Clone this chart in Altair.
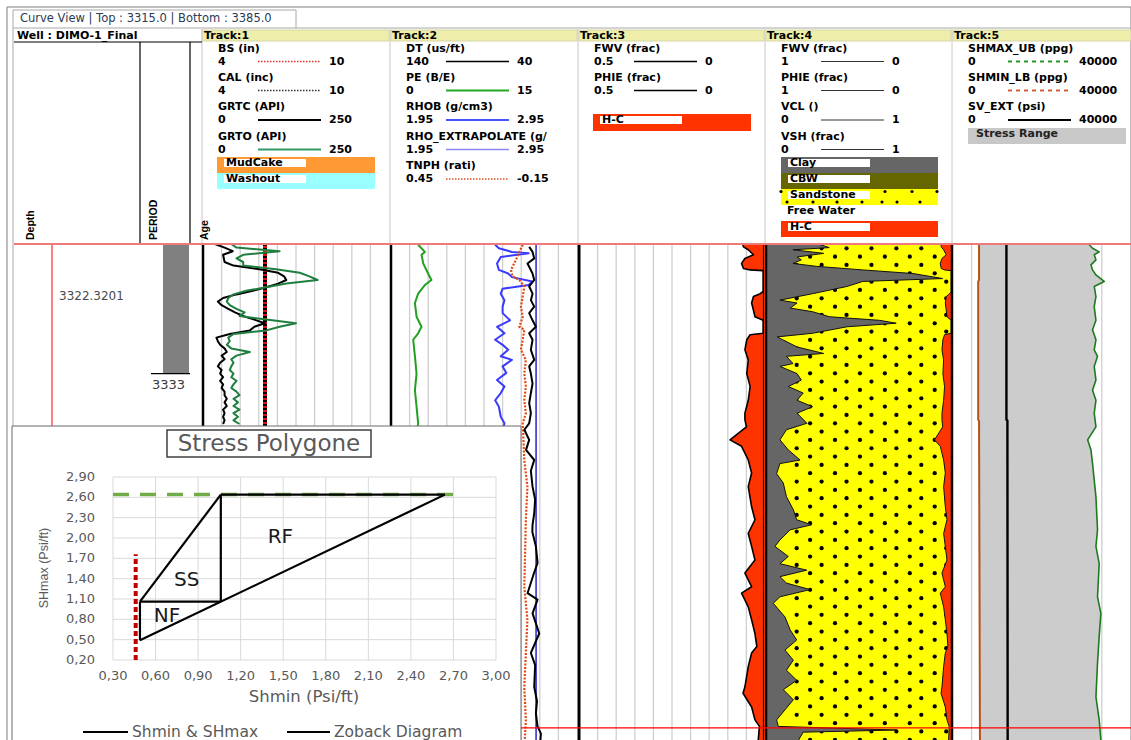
import altair as alt
import pandas as pd

# ============================================================
# Well DIMO-1 : log curves (depth in metres)
# ============================================================
TOP_DEPTH = 3315.0
BOTTOM_DEPTH = 3385.0
MARKER_DEPTH = 3322.3201
PERIOD_BASE = 3333.0
LOWER_MARKER = 3382.2

# ---- Track 1 : gamma ray (API), 0.5 m sampling ----
GR_DEPTH = [3315.0 + 0.5 * i for i in range(51)]
GRTC = [16, 29, 40, 27, 28, 29, 41, 76, 101, 109,
        112, 101, 85, 67, 45, 27, 20, 25, 34, 43,
        54, 69, 83, 69, 63, 36, 18, 20, 23, 29,
        32, 25, 29, 23, 20, 25, 23, 27, 23, 27,
        25, 29, 29, 32, 29, 32, 27, 29, 27, 29, 27]
GRTO = [38, 45, 103, 54, 45, 54, 54, 98, 130, 143,
        154, 112, 85, 58, 41, 34, 32, 36, 45, 56,
        49, 85, 125, 103, 85, 41, 34, 36, 32, 38,
        63, 45, 38, 41, 38, 36, 41, 38, 45, 41,
        38, 45, 49, 41, 47, 41, 49, 41, 47, 41, 49]
BS_IN = 6.0
CAL_IN = 6.0

# ---- Track 2 : sonic / density / neutron / PE ----
DT_DEPTH = [3315.4, 3316.1, 3317.0, 3317.7, 3319.1, 3320.0, 3320.9, 3321.9, 3322.8, 3323.7,
            3324.6, 3325.6, 3326.5, 3327.4, 3328.3, 3329.7, 3331.1, 3332.0, 3333.0, 3334.4,
            3335.7, 3337.1, 3338.5, 3339.9, 3340.8, 3342.2, 3343.6, 3345.0, 3346.5, 3348.7,
            3350.5, 3352.4, 3354.0, 3355.0, 3357.0, 3359.3, 3361.0, 3363.5, 3364.4, 3366.3,
            3367.7, 3369.1, 3371.8, 3373.5, 3376.5, 3378.5, 3380.2, 3382.0, 3383.0, 3385.0]
DT = [65.7, 63.9, 63.0, 66.6, 63.9, 63.0, 65.7, 63.9, 64.8, 63.0,
      65.7, 63.9, 62.1, 65.7, 63.9, 64.8, 63.0, 65.7, 64.8, 63.9,
      64.8, 65.7, 64.8, 65.7, 68.3, 65.7, 67.4, 63.0, 64.8, 63.9,
      62.5, 63.0, 63.9, 64.0, 62.1, 61.2, 63.5, 66.6, 61.2, 63.9,
      62.1, 60.3, 64.8, 62.5, 63.0, 61.5, 62.1, 61.2, 59.4, 60.0]

PE_DEPTH = [3315.1, 3316.1, 3316.5, 3317.7, 3319.1, 3320.0, 3320.7, 3321.9, 3323.2, 3325.1,
            3326.5, 3327.4, 3328.3, 3330.6, 3333.0, 3335.3, 3337.6, 3339.9, 3341.0]
PE = [2.19, 2.73, 2.46, 2.60, 2.99, 3.26, 2.73, 2.19, 1.93, 2.06,
      2.46, 2.19, 1.79, 1.93, 2.06, 1.93, 2.06, 2.19, 2.10]

RHOB_DEPTH = [3315.1, 3315.6, 3316.1, 3316.3, 3316.8, 3317.7, 3318.6, 3319.1, 3319.6, 3320.2,
              3320.7, 3321.2, 3321.9, 3322.8, 3323.7, 3324.6, 3325.6, 3326.5, 3327.4, 3328.3,
              3329.0, 3329.7, 3330.6, 3331.1, 3332.0, 3332.9, 3333.9, 3334.8, 3335.7, 3336.7,
              3337.6, 3339.0, 3339.9, 3341.0]
RHOB = [2.51, 2.53, 2.60, 2.69, 2.54, 2.52, 2.53, 2.58, 2.60, 2.71,
        2.69, 2.55, 2.54, 2.56, 2.55, 2.55, 2.59, 2.52, 2.56, 2.51,
        2.55, 2.58, 2.54, 2.60, 2.55, 2.57, 2.52, 2.56, 2.54, 2.51,
        2.53, 2.54, 2.56, 2.55]
RHO_EXTRAPOLATE = 2.73

TNPH_DEPTH = [3315.1, 3316.1, 3317.2, 3318.6, 3319.5, 3320.0, 3320.9, 3322.3, 3323.7, 3325.1,
              3326.5, 3326.9, 3328.3, 3329.7, 3331.1, 3333.0, 3334.8, 3336.7, 3338.5, 3339.9,
              3345.0, 3348.7, 3353.3, 3362.6, 3367.2, 3371.8, 3376.5, 3381.1, 3385.0]
TNPH = [0.025, 0.036, 0.047, 0.063, 0.058, 0.036, 0.020, 0.025, 0.031, 0.025,
        0.036, 0.020, 0.025, 0.031, 0.015, 0.020, 0.015, 0.020, 0.015, 0.025,
        0.020, 0.010, 0.015, 0.020, 0.010, 0.015, 0.020, 0.015, 0.020]

# ---- Tracks 3 & 4 : porosity / free water / clay volume ----
PHIE_DEPTH = [3315.0, 3315.4, 3315.8, 3316.5, 3317.0, 3317.7, 3318.4, 3318.6, 3318.7, 3321.6,
              3321.9, 3322.3, 3323.2, 3324.2, 3325.1, 3325.6, 3327.4, 3327.6, 3328.3, 3329.7,
              3331.1, 3333.0, 3334.8, 3336.7, 3338.5, 3339.4, 3340.4, 3342.2, 3343.1, 3345.0,
              3346.8, 3348.7, 3351.5, 3353.3, 3355.2, 3357.0, 3358.9, 3360.7, 3362.6, 3363.5,
              3365.4, 3367.2, 3369.1, 3370.9, 3371.8, 3373.7, 3376.5, 3377.4, 3379.3, 3381.1,
              3382.0, 3385.0]
PHIE = [0.060, 0.058, 0.045, 0.031, 0.054, 0.063, 0.058, 0.040, 0.005, 0.005,
        0.013, 0.031, 0.036, 0.031, 0.027, 0.005, 0.005, 0.040, 0.049, 0.054,
        0.045, 0.049, 0.040, 0.045, 0.054, 0.054, 0.050, 0.094, 0.063, 0.045,
        0.036, 0.045, 0.036, 0.027, 0.045, 0.036, 0.027, 0.054, 0.036, 0.063,
        0.045, 0.036, 0.027, 0.022, 0.036, 0.045, 0.054, 0.059, 0.036, 0.027,
        0.015, 0.020]
FWV_DEPTH = [3315.0, 3385.0]
FWV = [0.004, 0.004]

VCL_DEPTH = [3315.0, 3315.5, 3315.8, 3316.3, 3316.8, 3317.2, 3317.7, 3318.1, 3318.6, 3319.1,
             3319.8, 3320.2, 3320.9, 3321.9, 3322.8, 3323.2, 3323.9, 3324.4, 3325.1, 3325.6,
             3326.0, 3326.5, 3327.4, 3327.9, 3328.3, 3329.3, 3330.2, 3330.6, 3331.6, 3332.0,
             3333.0, 3333.9, 3334.8, 3335.7, 3336.7, 3337.6, 3338.5, 3339.9, 3340.8, 3342.2,
             3343.6, 3345.0, 3345.5, 3346.9, 3348.2, 3350.1, 3351.9, 3353.3, 3354.0, 3354.7,
             3356.1, 3357.0, 3358.4, 3359.4, 3360.3, 3361.2, 3362.1, 3363.0, 3364.0, 3364.9,
             3366.8, 3368.6, 3370.0, 3371.4, 3372.8, 3374.2, 3375.6, 3376.9, 3378.3, 3379.7,
             3381.1, 3382.0, 3382.5, 3382.8, 3385.0]
VCL = [0.28, 0.34, 0.145, 0.31, 0.167, 0.19, 0.145, 0.27, 0.52, 0.79,
       0.95, 0.52, 0.435, 0.25, 0.075, 0.167, 0.13, 0.25, 0.34, 0.61,
       0.70, 0.435, 0.25, 0.06, 0.09, 0.167, 0.31, 0.11, 0.145, 0.075,
       0.167, 0.19, 0.12, 0.20, 0.167, 0.25, 0.167, 0.22, 0.11, 0.075,
       0.12, 0.183, 0.075, 0.057, 0.093, 0.11, 0.147, 0.165, 0.245, 0.13,
       0.075, 0.048, 0.12, 0.075, 0.219, 0.075, 0.11, 0.237, 0.075, 0.039,
       0.102, 0.13, 0.165, 0.102, 0.147, 0.11, 0.165, 0.093, 0.147, 0.102,
       0.057, 0.066, 0.70, 0.20, 0.15]

# ---- Track 5 : stress bounds ----
SHMAX_DEPTH = [3315.1, 3315.6, 3316.1, 3316.5, 3317.2, 3317.9, 3318.6, 3319.3, 3320.2, 3320.9,
               3322.3, 3323.7, 3325.6, 3326.9, 3328.3, 3329.7, 3330.6, 3332.0, 3333.9, 3335.3,
               3336.7, 3338.5, 3340.4, 3342.2, 3343.6, 3345.5, 3347.8, 3350.1, 3354.7, 3357.0,
               3359.4, 3364.0, 3366.3, 3369.5, 3373.2, 3377.9, 3381.1, 3383.9, 3385.0]
SHMAX_UB = [29300, 30010, 31440, 30370, 30740, 29670, 30010, 30740, 32510, 30370,
            30740, 30370, 30740, 30010, 30740, 30370, 31080, 30370, 30740, 30010,
            30740, 30370, 30740, 28950, 29670, 30010, 30370, 30740, 31080, 30740,
            31440, 31080, 31800, 31440, 31080, 30740, 31440, 31800, 31800]
SHMIN_DEPTH = [3315.0, 3320.0, 3320.2, 3339.4, 3339.6, 3385.0]
SHMIN_LB = [5600, 5600, 5420, 5420, 5600, 5800]
SV_DEPTH = [3315.0, 3339.4, 3339.5, 3385.0]
SV_EXT = [11490, 11490, 11700, 11760]

# ---- Stress polygon (gradients in psi/ft) ----
SHMIN_LOWER = 0.49
SV_GRAD = 1.06
SHMAX_UPPER = 2.64
PP_LINE_X = 0.46
PP_LINE_TOP = 1.76
UPPER_LINE_END = 2.72
SP_X_TICKS = [0.30, 0.60, 0.90, 1.20, 1.50, 1.80, 2.10, 2.40, 2.70, 3.00]
SP_X_LABELS = ["0,30", "0,60", "0,90", "1,20", "1,50", "1,80", "2,10", "2,40", "2,70", "3,00"]
SP_Y_TICKS = [0.20, 0.50, 0.80, 1.10, 1.40, 1.70, 2.00, 2.30, 2.60, 2.90]
SP_Y_LABELS = ["0,20", "0,50", "0,80", "1,10", "1,40", "1,70", "2,00", "2,30", "2,60", "2,90"]
REGIME_NAMES = ["RF", "SS", "NF"]
REGIME_X = [1.48, 0.82, 0.68]
REGIME_Y = [2.02, 1.38, 0.85]

# ============================================================
# layout
# ============================================================
W, H = 1131, 740
DEPTH_PX = [244, 748]
TRACK_LEFT = [203, 391, 579, 766, 953]
TRACK_W = 186
FONT = "DejaVu Sans"
HDR = 11            # header text size
GRAY_TXT = "#595959"


def y_depth():
    return alt.Scale(domain=[TOP_DEPTH, BOTTOM_DEPTH], range=DEPTH_PX, nice=False, zero=False)


def x_track(i, lo, hi):
    a = TRACK_LEFT[i]
    return alt.Scale(domain=[lo, hi], range=[a, a + TRACK_W], nice=False, zero=False)


def log_line(depth, values, track, lo, hi, color, width=1.4, dash=None, dash_offset=None):
    df = pd.DataFrame({"depth": depth, "value": values})
    kw = dict(color=color, strokeWidth=width, strokeJoin="round")
    if dash is not None:
        kw["strokeDash"] = dash
    if dash_offset is not None:
        kw["strokeDashOffset"] = dash_offset
    return alt.Chart(df).mark_line(**kw).encode(
        x=alt.X("value:Q", scale=x_track(track, lo, hi), axis=None),
        y=alt.Y("depth:Q", scale=y_depth(), axis=None),
        order=alt.Order("depth:Q"),
    )


def log_fill(depth, values, base, track, lo, hi, color):
    df = pd.DataFrame({"depth": depth, "value": values})
    return alt.Chart(df).mark_area(orient="horizontal", color=color, opacity=1).encode(
        x=alt.X("value:Q", scale=x_track(track, lo, hi), axis=None, stack=None),
        x2=alt.datum(base),
        y=alt.Y("depth:Q", scale=y_depth(), axis=None),
    )


def track_rules(track, divisions, color, width):
    df = pd.DataFrame({"g": divisions, "top": TOP_DEPTH, "base": BOTTOM_DEPTH})
    return alt.Chart(df).mark_rule(color=color, strokeWidth=width).encode(
        x=alt.X("g:Q", scale=x_track(track, 0, 10), axis=None),
        y=alt.Y("top:Q", scale=y_depth(), axis=None),
        y2="base:Q",
    )


def px_rects(rows, fill, stroke=None, stroke_width=1.0, fill_opacity=1.0):
    df = pd.DataFrame(rows, columns=["x1", "x2", "y1", "y2"])
    kw = dict(fill=fill, fillOpacity=fill_opacity)
    if stroke is not None:
        kw.update(stroke=stroke, strokeWidth=stroke_width)
    return alt.Chart(df).mark_rect(**kw).encode(
        x=alt.X("x1:Q", scale=None, axis=None), x2="x2:Q",
        y=alt.Y("y1:Q", scale=None, axis=None), y2="y2:Q",
    )


def px_rules(rows, color, width=1.0, dash=None):
    df = pd.DataFrame(rows, columns=["x1", "x2", "y1", "y2"])
    kw = dict(color=color, strokeWidth=width)
    if dash is not None:
        kw["strokeDash"] = dash
    return alt.Chart(df).mark_rule(**kw).encode(
        x=alt.X("x1:Q", scale=None, axis=None), x2="x2:Q",
        y=alt.Y("y1:Q", scale=None, axis=None), y2="y2:Q",
    )


def px_texts(rows, size=HDR, weight="bold", color="black", align="left",
             font=FONT, angle=0):
    df = pd.DataFrame(rows, columns=["label", "px", "py"])
    kw = dict(fontSize=size, fontWeight=weight, color=color, align=align,
              font=font, baseline="middle")
    if angle:
        kw["angle"] = angle
    return alt.Chart(df).mark_text(**kw).encode(
        x=alt.X("px:Q", scale=None, axis=None),
        y=alt.Y("py:Q", scale=None, axis=None),
        text="label:N",
    )


layers = []

# ---------------- window frame, tab and header strip ----------------
layers.append(px_rects([(7, 1131, 7, 745)], fill="white", stroke="#7f7f7f"))
layers.append(px_rects([(13, 296, 10, 28)], fill="white", stroke="#a8a8a8"))
layers.append(px_rules([(296, 1131, 28, 28), (13, 13, 28, 745)], color="#a8a8a8"))
layers.append(px_texts([("Curve View | Top : 3315.0 | Bottom : 3385.0", 20, 18.5)],
                       size=11.5, weight="normal", color="#2b3a55"))
layers.append(px_rects([(202, 389, 30, 41), (391, 577, 30, 41), (579, 764, 30, 41),
                        (766, 951, 30, 41), (953, 1131, 30, 41)],
                       fill="#eeeeaa", stroke="#d6d6a8"))
layers.append(px_texts([(f"Track:{i + 1}", TRACK_LEFT[i] + 1, 35.5) for i in range(5)], size=11))
layers.append(px_rules([(x, x, 29, 244) for x in (202, 390, 578, 765, 952)], color="#c8c8c8"))
layers.append(px_texts([("Well : DIMO-1_Final", 17, 35.5)], size=11))
layers.append(px_rules([(14, 202, 42, 42), (140, 140, 42, 244), (190, 190, 42, 244)],
                       color="black", width=1.2))
layers.append(px_texts([("Depth", 31, 240), ("PERIOD", 154, 240), ("Age", 205, 240)],
                       size=10.5, font="Liberation Sans", angle=270))

# ---------------- track gridlines ----------------
for t in (0, 1, 2):
    layers.append(track_rules(t, list(range(1, 10)), "#cfcfcf", 1.3))
layers.append(track_rules(4, list(range(1, 9)), "#cfcfcf", 1.3))

# ---------------- Track 4 : lithology column ----------------
sand_df = pd.DataFrame({"top": [TOP_DEPTH], "base": [BOTTOM_DEPTH], "a": [0.0], "b": [1.0]})
layers.append(alt.Chart(sand_df).mark_rect(color="#ffff00").encode(
    x=alt.X("a:Q", scale=x_track(3, 0, 1), axis=None), x2="b:Q",
    y=alt.Y("top:Q", scale=y_depth(), axis=None), y2="base:Q"))

# sandstone hatch: staggered dot texture
dot_depth, dot_frac = [], []
row, d = 0, 3315.6
while d < BOTTOM_DEPTH:
    f = 0.165 if row % 2 == 0 else 0.237
    while f < 0.99:
        dot_depth.append(d)
        dot_frac.append(f)
        f += 0.134
    row += 1
    d += 1.157
dots_df = pd.DataFrame({"depth": dot_depth, "frac": dot_frac})
layers.append(alt.Chart(dots_df).mark_circle(size=18, color="black", opacity=1).encode(
    x=alt.X("frac:Q", scale=x_track(3, 0, 1), axis=None),
    y=alt.Y("depth:Q", scale=y_depth(), axis=None)))

layers.append(log_fill(VCL_DEPTH, VCL, 0, 3, 0, 1, "#666666"))
layers.append(log_line(VCL_DEPTH, VCL, 3, 0, 1, "#111111", width=1.0))
layers.append(log_fill(PHIE_DEPTH, PHIE, 0, 3, 1, 0, "#ff3300"))
layers.append(log_line(PHIE_DEPTH, PHIE, 3, 1, 0, "#111111", width=1.0))
layers.append(track_rules(3, [0, 10], "black", 2.5))

# ---------------- Track 3 : hydrocarbon fill ----------------
layers.append(log_fill(PHIE_DEPTH, PHIE, 0, 2, 0.5, 0, "#ff3300"))
layers.append(log_line(PHIE_DEPTH, PHIE, 2, 0.5, 0, "black", width=1.6))
layers.append(log_line(FWV_DEPTH, FWV, 2, 0.5, 0, "black", width=1.2))
layers.append(track_rules(2, [0], "black", 3))

# ---------------- Track 5 : stress range ----------------
layers.append(log_fill(SHMAX_DEPTH, SHMAX_UB, 5600, 4, 0, 40000, "#cccccc"))
layers.append(log_line(SHMIN_DEPTH, SHMIN_LB, 4, 0, 40000, "#b5521b", width=2))
layers.append(log_line(SV_DEPTH, SV_EXT, 4, 0, 40000, "black", width=2.4))
layers.append(log_line(SHMAX_DEPTH, SHMAX_UB, 4, 0, 40000, "#1e7a1e", width=1.6))

# ---------------- Track 1 : GR, bit size, caliper ----------------
layers.append(track_rules(0, [0], "black", 2.5))
layers.append(log_line([TOP_DEPTH, BOTTOM_DEPTH], [CAL_IN, CAL_IN], 0, 4, 10, "black",
                       width=4, dash=[2, 2]))
layers.append(log_line([TOP_DEPTH, BOTTOM_DEPTH], [BS_IN, BS_IN], 0, 4, 10, "#e01010",
                       width=4, dash=[2, 2], dash_offset=2))
layers.append(log_line(GR_DEPTH, GRTC, 0, 0, 250, "black", width=2))
layers.append(log_line(GR_DEPTH, GRTO, 0, 0, 250, "#1f7f3f", width=2))

# ---------------- Track 2 : DT, PE, RHOB, TNPH ----------------
layers.append(track_rules(1, [0], "black", 2.5))
layers.append(log_line(PE_DEPTH, PE, 1, 0, 15, "#22a022", width=2))
layers.append(log_line([TOP_DEPTH, BOTTOM_DEPTH], [RHO_EXTRAPOLATE, RHO_EXTRAPOLATE],
                       1, 1.95, 2.95, "#4a4ad0", width=1.8))
layers.append(log_line(RHOB_DEPTH, RHOB, 1, 1.95, 2.95, "#3a3aff", width=2))
layers.append(log_line(TNPH_DEPTH, TNPH, 1, 0.45, -0.15, "#e04a10", width=2.2, dash=[2, 1.5]))
layers.append(log_line(DT_DEPTH, DT, 1, 140, 40, "black", width=2))

# ---------------- depth and period columns ----------------
layers.append(px_rules([(52, 52, 244, 745)], color="#ff0000", width=1))
period_df = pd.DataFrame({"top": [TOP_DEPTH], "base": [PERIOD_BASE], "a": [163], "b": [189]})
layers.append(alt.Chart(period_df).mark_rect(color="#808080").encode(
    x=alt.X("a:Q", scale=None, axis=None), x2="b:Q",
    y=alt.Y("top:Q", scale=y_depth(), axis=None), y2="base:Q"))
period_line = pd.DataFrame({"depth": [PERIOD_BASE], "a": [151], "b": [190]})
layers.append(alt.Chart(period_line).mark_rule(color="black", strokeWidth=1.3).encode(
    x=alt.X("a:Q", scale=None, axis=None), x2="b:Q",
    y=alt.Y("depth:Q", scale=y_depth(), axis=None)))
depth_labels = pd.DataFrame({"depth": [MARKER_DEPTH], "label": ["3322.3201"], "px": [59]})
layers.append(alt.Chart(depth_labels).mark_text(
    font=FONT, fontSize=12, color="#4a4a4a", align="left", baseline="middle", dy=-1).encode(
    x=alt.X("px:Q", scale=None, axis=None),
    y=alt.Y("depth:Q", scale=y_depth(), axis=None), text="label:N"))
period_label = pd.DataFrame({"depth": [PERIOD_BASE], "label": ["3333"], "px": [152]})
layers.append(alt.Chart(period_label).mark_text(
    font=FONT, fontSize=13, color="#3a3a3a", align="left", baseline="middle", dy=11).encode(
    x=alt.X("px:Q", scale=None, axis=None),
    y=alt.Y("depth:Q", scale=y_depth(), axis=None), text="label:N"))

# depth marker lines across the log
marker_df = pd.DataFrame({"depth": [TOP_DEPTH], "a": [14], "b": [1131]})
layers.append(alt.Chart(marker_df).mark_rule(color="#ee7b7b", strokeWidth=2).encode(
    x=alt.X("a:Q", scale=None, axis=None), x2="b:Q",
    y=alt.Y("depth:Q", scale=y_depth(), axis=None)))
lower_df = pd.DataFrame({"depth": [LOWER_MARKER], "a": [14], "b": [1131]})
layers.append(alt.Chart(lower_df).mark_rule(color="#ff0000", strokeWidth=1.2).encode(
    x=alt.X("a:Q", scale=None, axis=None), x2="b:Q",
    y=alt.Y("depth:Q", scale=y_depth(), axis=None)))

# ---------------- curve headers ----------------
NAME_Y = [48.5, 77.5, 107, 136.5, 166]
VAL_Y = [61.5, 90.5, 120, 149.5, 179]
HEADERS = [
    [("BS (in)", "4", "10", "bs"), ("CAL (inc)", "4", "10", "cal"),
     ("GRTC (API)", "0", "250", "grtc"), ("GRTO (API)", "0", "250", "grto")],
    [("DT (us/ft)", "140", "40", "dt"), ("PE (B/E)", "0", "15", "pe"),
     ("RHOB (g/cm3)", "1.95", "2.95", "rhob"), ("RHO_EXTRAPOLATE (g/", "1.95", "2.95", "rhox"),
     ("TNPH (rati)", "0.45", "-0.15", "tnph")],
    [("FWV (frac)", "0.5", "0", "k"), ("PHIE (frac)", "0.5", "0", "k")],
    [("FWV (frac)", "1", "0", "thin"), ("PHIE (frac)", "1", "0", "thin"),
     ("VCL ()", "0", "1", "thin"), ("VSH (frac)", "0", "1", "thin")],
    [("SHMAX_UB (ppg)", "0", "40000", "shmax"), ("SHMIN_LB (ppg)", "0", "40000", "shmin"),
     ("SV_EXT (psi)", "0", "40000", "sv")],
]
STYLES = {
    "bs": ("#e03030", 1.6, [1.5, 1.5]), "cal": ("#333333", 1.4, [1.5, 1.5]),
    "grtc": ("black", 2, None), "grto": ("#339966", 2, None),
    "dt": ("black", 1.6, None), "pe": ("#22aa22", 2, None),
    "rhob": ("#4455ff", 2, None), "rhox": ("#8888ee", 1.6, None),
    "tnph": ("#e05020", 1.6, [1.5, 1.5]), "k": ("black", 1.5, None),
    "thin": ("#333333", 1, None), "shmax": ("#229922", 2, [4, 4]),
    "shmin": ("#d06030", 2, [4, 4]), "sv": ("black", 2, None),
}
name_rows, value_rows = [], []
sample_rows = {}
for t, items in enumerate(HEADERS):
    left = TRACK_LEFT[t]
    for r, (name, lo, hi, style) in enumerate(items):
        name_rows.append((name, left + 15, NAME_Y[r]))
        value_rows.append((lo, left + 15, VAL_Y[r]))
        value_rows.append((hi, left + 126, VAL_Y[r]))
        sample_rows.setdefault(style, []).append((left + 55, left + 118, VAL_Y[r], VAL_Y[r]))
layers.append(px_texts(name_rows))
layers.append(px_texts(value_rows))
for style, rows in sample_rows.items():
    c, w, dsh = STYLES[style]
    layers.append(px_rules(rows, color=c, width=w, dash=dsh))

# colour swatches of the fills
SWATCHES = [
    (217, 375, 157, 173, "#ff9933", "MudCake"),
    (217, 375, 173, 189, "#99ffff", "Washout"),
    (593, 751, 114, 131, "#ff3300", "H-C"),
    (781, 938, 157, 173, "#666666", "Clay"),
    (781, 938, 173, 189, "#666600", "CBW"),
    (781, 938, 189, 205, "#ffff00", "Sandstone"),
    (781, 938, 221, 237, "#ff3300", "H-C"),
]
for x1, x2, y1, y2, col, _ in SWATCHES:
    layers.append(px_rects([(x1, x2, y1, y2)], fill=col))
swatch_dots = pd.DataFrame({"px": [781, 885, 912, 937, 787, 813, 837, 862, 882, 897, 920],
                            "py": [191.5, 191.5, 191.5, 191.5, 202, 202, 202, 202,
                                   202, 202, 202]})
layers.append(alt.Chart(swatch_dots).mark_circle(size=10, color="black", opacity=1).encode(
    x=alt.X("px:Q", scale=None, axis=None), y=alt.Y("py:Q", scale=None, axis=None)))
layers.append(px_rects([(x1 + 7, x1 + 89, y1 + 2, y1 + 10) for x1, _, y1, _, _, _ in SWATCHES],
                       fill="white"))
layers.append(px_texts([(lab, x1 + 9, y1 + 6) for x1, _, y1, _, _, lab in SWATCHES]))
layers.append(px_texts([("Free Water", 787, 211)]))
layers.append(px_rects([(968, 1126, 128, 144)], fill="#c8c8c8"))
layers.append(px_texts([("Stress Range", 976, 133.5)], color="#222222"))

# ============================================================
# Stress polygon panel
# ============================================================
def x_sp():
    return alt.Scale(domain=[0.3, 3.0], range=[113, 496], nice=False, zero=False)


def y_sp():
    return alt.Scale(domain=[0.2, 2.9], range=[660, 477], nice=False, zero=False)


layers.append(px_rects([(12, 521, 426, 745)], fill="white", stroke="#6b6b6b"))

gx = pd.DataFrame({"t": SP_X_TICKS, "lo": 0.2, "hi": 2.9})
layers.append(alt.Chart(gx).mark_rule(color="#d9d9d9", strokeWidth=1).encode(
    x=alt.X("t:Q", scale=x_sp(), axis=None),
    y=alt.Y("lo:Q", scale=y_sp(), axis=None), y2="hi:Q"))
gy = pd.DataFrame({"t": SP_Y_TICKS, "lo": 0.3, "hi": 3.0})
layers.append(alt.Chart(gy).mark_rule(color="#d9d9d9", strokeWidth=1).encode(
    y=alt.Y("t:Q", scale=y_sp(), axis=None),
    x=alt.X("lo:Q", scale=x_sp(), axis=None), x2="hi:Q"))

lx = pd.DataFrame({"t": SP_X_TICKS, "label": SP_X_LABELS, "base": 0.2})
layers.append(alt.Chart(lx).mark_text(font=FONT, fontSize=13, color=GRAY_TXT,
                                      align="center", baseline="middle", dy=16).encode(
    x=alt.X("t:Q", scale=x_sp(), axis=None),
    y=alt.Y("base:Q", scale=y_sp(), axis=None), text="label:N"))
ly = pd.DataFrame({"t": SP_Y_TICKS, "label": SP_Y_LABELS, "base": 0.3})
layers.append(alt.Chart(ly).mark_text(font=FONT, fontSize=13, color=GRAY_TXT,
                                      align="right", baseline="middle", dx=-18).encode(
    y=alt.Y("t:Q", scale=y_sp(), axis=None),
    x=alt.X("base:Q", scale=x_sp(), axis=None), text="label:N"))

# regime labels
reg = pd.DataFrame({"label": REGIME_NAMES, "x": REGIME_X, "y": REGIME_Y})
layers.append(alt.Chart(reg).mark_text(font=FONT, fontSize=20, color="#1a1a1a",
                                       align="center", baseline="middle").encode(
    x=alt.X("x:Q", scale=x_sp(), axis=None),
    y=alt.Y("y:Q", scale=y_sp(), axis=None), text="label:N"))

# lower Shmin bound (dashed red) and upper SHmax bound (dashed green)
pp = pd.DataFrame({"x": [PP_LINE_X], "y1": [0.2], "y2": [PP_LINE_TOP]})
layers.append(alt.Chart(pp).mark_rule(color="#c00000", strokeWidth=4, strokeDash=[5, 3]).encode(
    x=alt.X("x:Q", scale=x_sp(), axis=None),
    y=alt.Y("y1:Q", scale=y_sp(), axis=None), y2="y2:Q"))
up = pd.DataFrame({"y": [SHMAX_UPPER], "x1": [0.3], "x2": [UPPER_LINE_END]})
layers.append(alt.Chart(up).mark_rule(color="#70ad47", strokeWidth=3.5, strokeDash=[16, 11]).encode(
    y=alt.Y("y:Q", scale=y_sp(), axis=None),
    x=alt.X("x1:Q", scale=x_sp(), axis=None), x2="x2:Q"))

# Zoback polygon edges
A = (SHMIN_LOWER, SHMIN_LOWER)
B = (SHMIN_LOWER, SV_GRAD)
C = (SV_GRAD, SV_GRAD)
D = (SV_GRAD, SHMAX_UPPER)
E = (SHMAX_UPPER, SHMAX_UPPER)
edges = [(A, B), (B, C), (A, E), (B, D), (C, D), (D, E)]
poly = pd.DataFrame({"x1": [p[0] for p, _ in edges], "y1": [p[1] for p, _ in edges],
                     "x2": [q[0] for _, q in edges], "y2": [q[1] for _, q in edges]})
layers.append(alt.Chart(poly).mark_rule(color="black", strokeWidth=2.2).encode(
    x=alt.X("x1:Q", scale=x_sp(), axis=None), x2="x2:Q",
    y=alt.Y("y1:Q", scale=y_sp(), axis=None), y2="y2:Q"))

# title box, axis titles and legend
layers.append(px_rects([(167, 371, 430, 457)], fill="white", stroke="#404040", stroke_width=1.5))
layers.append(px_texts([("Stress Polygone", 269, 444)], size=23, weight="normal",
                       color=GRAY_TXT, align="center", font=FONT))
layers.append(px_texts([("Shmin (Psi/ft)", 304, 697)], size=16.5, weight="normal",
                       color=GRAY_TXT, align="center"))
layers.append(px_texts([("SHmax (Psi/ft)", 44, 568)], size=12.5, weight="normal",
                       color=GRAY_TXT, align="center", font="Liberation Sans", angle=270))
layers.append(px_rules([(83, 128, 732, 732), (287, 330, 732, 732)], color="black", width=2))
layers.append(px_texts([("Shmin & SHmax", 132, 732), ("Zoback Diagram", 334, 732)],
                       size=15.5, weight="normal", color=GRAY_TXT))

chart = (
    alt.layer(*layers)
    .resolve_scale(x="independent", y="independent")
    .properties(width=W, height=H, padding=0,
                autosize=alt.AutoSizeParams(type="none"), background="white")
    .configure_view(stroke=None)
)

chart.save("out.html", embed_options={"renderer": "svg", "actions": False})
